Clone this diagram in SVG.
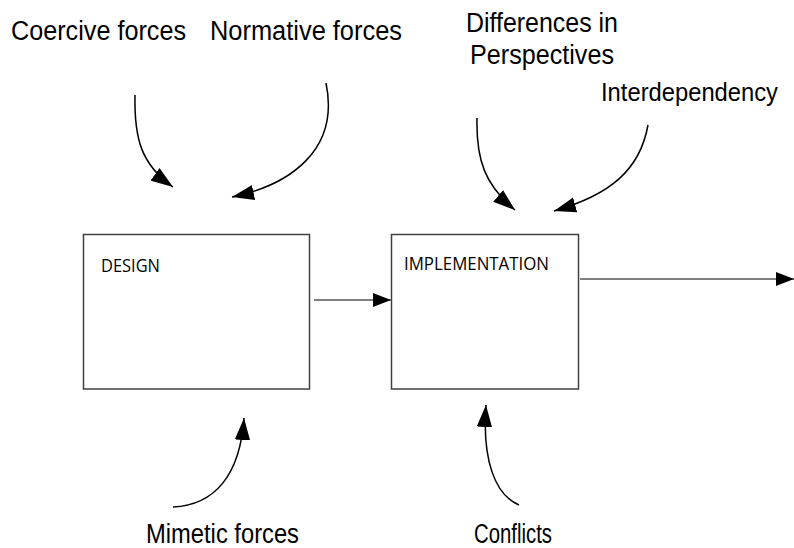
<svg xmlns="http://www.w3.org/2000/svg" width="794" height="548" viewBox="0 0 794 548">
<defs>
<marker id="big" markerUnits="userSpaceOnUse" markerWidth="22" markerHeight="16" refX="20" refY="7" orient="auto" viewBox="0 0 20 14">
<path d="M0,0 L20,7 L0,14 Z" fill="#000"/>
</marker>
<marker id="small" markerUnits="userSpaceOnUse" markerWidth="18" markerHeight="14" refX="17" refY="6.5" orient="auto" viewBox="0 0 17 13">
<path d="M0,0 L17,6.5 L0,13 Z" fill="#000"/>
</marker>
</defs>
<style>
.lbl{font-family:"Liberation Sans",Arial,sans-serif;font-size:27px;fill:#000}
.box{fill:#fff;stroke:#404040;stroke-width:1.5}
.btxt{font-family:"Open Sans","Noto Sans",sans-serif;font-size:19px;fill:#000}
.curve{fill:none;stroke:#000;stroke-width:1.5;marker-end:url(#big)}
.straight{fill:none;stroke:#7f7f7f;stroke-width:2;marker-end:url(#small)}
</style>
<rect width="794" height="548" fill="#fff"/>
<g id="design">
<rect class="box" x="83.5" y="234.5" width="226" height="154.5"/>
<text class="btxt" x="101" y="272" textLength="59" lengthAdjust="spacingAndGlyphs">DESIGN</text>
</g>
<g id="implementation">
<rect class="box" x="391.5" y="234.5" width="187" height="154.5"/>
<text class="btxt" x="404" y="270" textLength="145" lengthAdjust="spacingAndGlyphs">IMPLEMENTATION</text>
</g>
<g id="coercive"><text class="lbl" x="11" y="40" textLength="175" lengthAdjust="spacingAndGlyphs">Coercive forces</text></g>
<g id="normative"><text class="lbl" x="210" y="40" textLength="192" lengthAdjust="spacingAndGlyphs">Normative forces</text></g>
<g id="differences">
<text class="lbl" x="466" y="32" textLength="152" lengthAdjust="spacingAndGlyphs">Differences in</text>
<text class="lbl" x="470" y="64" textLength="144" lengthAdjust="spacingAndGlyphs">Perspectives</text>
</g>
<g id="interdependency"><text class="lbl" x="601" y="101" style="font-size:25.5px" textLength="177" lengthAdjust="spacingAndGlyphs">Interdependency</text></g>
<g id="mimetic"><text class="lbl" x="146" y="543" textLength="153" lengthAdjust="spacingAndGlyphs">Mimetic forces</text></g>
<g id="conflicts"><text class="lbl" x="474" y="543" textLength="78" lengthAdjust="spacingAndGlyphs">Conflicts</text></g>
<g id="connectors">
<path class="curve" d="M135,95 C134,140 142,165 173,187"/>
<path class="curve" d="M326,83 C340,150 290,185 232,197"/>
<path class="curve" d="M477,118 C476,160 485,185 515,210"/>
<path class="curve" d="M648,125 C640,170 610,195 554,211"/>
<path class="curve" d="M173,507 C215,505 240,475 244,418"/>
<path class="curve" d="M519,505 C495,495 482,460 486,405"/>
<path class="straight" d="M314,300 L391,300"/>
<path class="straight" d="M580,279 L794,279"/>
</g>
</svg>
